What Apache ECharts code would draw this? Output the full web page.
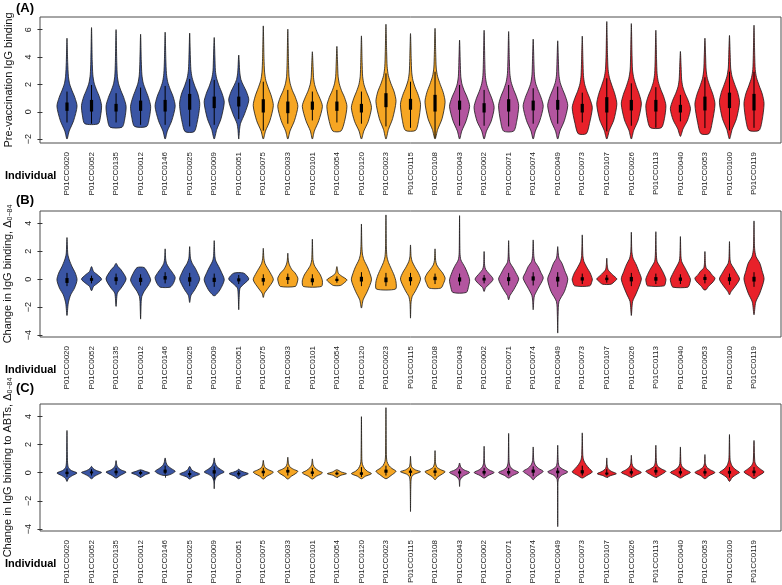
<!DOCTYPE html>
<html><head><meta charset="utf-8">
<script src="https://cdn.jsdelivr.net/npm/echarts@6/dist/echarts.min.js"></script>
<style>html,body{margin:0;padding:0;background:#fff}#c{width:782px;height:585px}</style>
</head><body><div id="c"></div>
<script>
const individuals = ['P01CC0020','P01CC0052','P01CC0135','P01CC0012','P01CC0146','P01CC0025','P01CC0009','P01CC0051','P01CC0075','P01CC0033','P01CC0101','P01CC0054','P01CC0120','P01CC0023','P01CC0115','P01CC0108','P01CC0043','P01CC0002','P01CC0071','P01CC0074','P01CC0049','P01CC0073','P01CC0107','P01CC0026','P01CC0113','P01CC0040','P01CC0053','P01CC0100','P01CC0119'];
const groups = [0,0,0,0,0,0,0,0,1,1,1,1,1,1,1,1,2,2,2,2,2,3,3,3,3,3,3,3,3];
const groupColors = ['#3A55A4','#F6A623','#B3559F','#E8212A'];
const yTicks = [-4,-2,0,2,4];
const yTicksA = [-2,0,2,4,6];

// Panel A: violin outlines as [value, relative half-width] knots, and box stats
const A_shape = [
[[-1.99,0],[-1.4,0.22],[-0.65,0.66],[0.4,1],[1.05,0.78],[1.55,0.5],[2.05,0.26],[2.6,0.14],[3.6,0.07],[5.38,0]],
[[-0.87,0.67],[-0.3,0.9],[0.45,1],[1.1,0.78],[1.6,0.5],[2.1,0.26],[2.7,0.13],[3.7,0.07],[6.16,0]],
[[-1.12,0.6],[-0.45,0.88],[0.4,1],[1.05,0.76],[1.55,0.48],[2.05,0.25],[2.6,0.13],[3.6,0.07],[6.01,0]],
[[-1.07,0.6],[-0.4,0.88],[0.4,1],[1.05,0.78],[1.6,0.5],[2.1,0.26],[2.7,0.13],[3.7,0.07],[5.67,0]],
[[-1.99,0],[-1.4,0.22],[-0.65,0.66],[0.4,1],[1.1,0.8],[1.65,0.5],[2.2,0.25],[2.8,0.13],[3.8,0.07],[5.82,0]],
[[-1.45,0.45],[-0.75,0.75],[0.1,0.95],[0.65,1],[1.3,0.82],[1.9,0.5],[2.5,0.24],[3.1,0.12],[4.0,0.07],[5.75,0]],
[[-1.99,0],[-1.3,0.25],[-0.5,0.68],[0.7,1],[1.35,0.78],[1.9,0.48],[2.45,0.24],[3.0,0.12],[4.0,0.07],[5.43,0]],
[[-1.99,0],[-1.3,0.08],[-0.85,0.18],[-0.15,0.58],[0.85,1],[1.5,0.75],[1.95,0.45],[2.35,0.22],[2.9,0.1],[4.15,0]],
[[-1.99,0],[-1.4,0.22],[-0.65,0.66],[0.45,1],[1.15,0.8],[1.75,0.5],[2.3,0.25],[2.9,0.13],[3.9,0.07],[6.28,0]],
[[-1.99,0],[-1.4,0.22],[-0.65,0.66],[0.4,1],[1.05,0.76],[1.55,0.46],[2.05,0.24],[2.6,0.12],[3.6,0.07],[6.04,0]],
[[-1.99,0],[-1.4,0.2],[-0.65,0.64],[0.4,1],[1.0,0.74],[1.5,0.44],[2.0,0.22],[2.5,0.12],[3.3,0.07],[4.39,0]],
[[-1.41,0.4],[-0.7,0.76],[0.4,1],[1.05,0.76],[1.55,0.46],[2.05,0.24],[2.6,0.12],[3.5,0.07],[4.78,0]],
[[-1.99,0],[-1.4,0.24],[-0.7,0.68],[0.3,1],[0.95,0.78],[1.5,0.48],[2.0,0.25],[2.6,0.12],[3.6,0.07],[5.55,0]],
[[-1.99,0],[-1.3,0.24],[-0.5,0.66],[0.75,1],[1.45,0.82],[2.05,0.5],[2.65,0.24],[3.3,0.12],[4.3,0.07],[6.4,0]],
[[-1.36,0.5],[-0.65,0.8],[0.55,1],[1.2,0.78],[1.75,0.48],[2.3,0.24],[2.9,0.12],[3.9,0.07],[5.72,0]],
[[-1.99,0],[-1.3,0.26],[-0.5,0.7],[0.7,1],[1.4,0.82],[2.0,0.52],[2.6,0.25],[3.2,0.12],[4.2,0.07],[6.1,0]],
[[-1.99,0],[-1.4,0.22],[-0.65,0.66],[0.4,1],[1.05,0.76],[1.55,0.46],[2.05,0.23],[2.6,0.12],[3.6,0.07],[5.24,0]],
[[-1.99,0],[-1.4,0.24],[-0.7,0.7],[0.3,1],[0.95,0.78],[1.5,0.48],[2.05,0.24],[2.65,0.12],[3.7,0.07],[5.96,0]],
[[-1.41,0.5],[-0.7,0.8],[0.45,1],[1.1,0.78],[1.65,0.48],[2.2,0.24],[2.8,0.12],[3.8,0.07],[5.87,0]],
[[-1.99,0],[-1.4,0.22],[-0.65,0.66],[0.4,1],[1.05,0.78],[1.6,0.48],[2.1,0.24],[2.7,0.12],[3.7,0.07],[5.31,0]],
[[-1.99,0],[-1.4,0.22],[-0.65,0.66],[0.45,1],[1.1,0.78],[1.65,0.48],[2.15,0.24],[2.7,0.12],[3.7,0.07],[5.19,0]],
[[-1.6,0.4],[-0.85,0.72],[0.3,1],[0.95,0.76],[1.5,0.46],[2.05,0.23],[2.65,0.12],[3.7,0.07],[5.53,0]],
[[-1.99,0],[-1.35,0.26],[-0.6,0.7],[0.55,1],[1.25,0.82],[1.9,0.52],[2.5,0.26],[3.1,0.13],[4.2,0.07],[6.6,0]],
[[-1.99,0],[-1.35,0.24],[-0.6,0.68],[0.58,1],[1.25,0.8],[1.85,0.5],[2.45,0.25],[3.05,0.12],[4.1,0.07],[6.45,0]],
[[-1.16,0.55],[-0.5,0.85],[0.45,1],[1.1,0.78],[1.65,0.48],[2.2,0.24],[2.8,0.12],[3.8,0.07],[5.96,0]],
[[-1.8,0],[-1.25,0.26],[-0.6,0.72],[0.22,1],[0.85,0.76],[1.35,0.46],[1.85,0.23],[2.4,0.12],[3.3,0.07],[4.41,0]],
[[-1.6,0.4],[-0.8,0.72],[0.55,1],[1.25,0.8],[1.85,0.5],[2.45,0.24],[3.05,0.12],[4.0,0.07],[5.38,0]],
[[-1.99,0],[-1.3,0.26],[-0.5,0.7],[0.7,1],[1.4,0.82],[2.0,0.52],[2.6,0.25],[3.2,0.12],[4.2,0.07],[5.58,0]],
[[-1.36,0.5],[-0.65,0.8],[0.6,1],[1.3,0.82],[1.9,0.52],[2.5,0.25],[3.1,0.12],[4.1,0.07],[6.33,0]]
];
const A_q1 = [0.07,0.02,0.02,0.07,0.02,0.15,0.27,0.39,-0.05,-0.1,0.15,0.07,-0.05,0.34,0.15,0.02,0.15,-0.05,0.02,0.1,0.15,-0.05,-0.05,0.1,0.02,-0.05,0.1,0.27,0.1];
const A_q3 = [0.68,0.87,0.58,0.82,0.87,1.31,1.11,1.11,0.92,0.75,0.75,0.75,0.58,1.36,0.95,1.24,0.82,0.63,0.92,0.82,0.87,0.58,1.07,0.87,0.87,0.51,1.11,1.4,1.31];
const A_wlo = [-0.78,-0.87,-0.78,-0.95,-0.95,-1.07,-0.95,-0.53,-1.38,-0.87,-0.63,-0.78,-0.87,-1.07,-1.17,-1.9,-1.02,-1.02,-1.07,-0.87,-0.87,-0.78,-1.43,-1.02,-1.16,-0.7,-1.19,-1.36,-1.17];
const A_whi = [1.48,1.96,1.36,1.77,1.89,2.4,2.33,2.13,2.2,1.6,1.48,1.6,1.48,2.81,2.2,2.93,1.96,1.6,1.96,1.72,1.84,1.4,2.45,2.08,1.8,1.24,2.52,2.93,2.93];

// Panel B
const B_shape = [
[[-2.6,0],[-1.7,0.13],[-1.12,0.37],[-0.64,0.75],[-0.05,1],[0.43,0.83],[0.9,0.5],[1.38,0.23],[1.8,0.08],[2.98,0]],
[[-0.83,0],[-0.52,0.2],[-0.29,0.6],[0,1],[0.31,0.6],[0.55,0.2],[0.9,0]],
[[-1.95,0],[-1.0,0.13],[-0.64,0.5],[0.02,1],[0.67,0.5],[0.9,0.2],[1.14,0]],
[[-2.86,0],[-1.6,0.06],[-1.24,0.12],[-0.88,0.35],[-0.4,0.8],[-0.05,1],[0.4,0.75],[0.83,0.35]],
[[-0.57,0.5],[-0.3,0.82],[0.12,1],[0.5,0.7],[0.79,0.4],[1.14,0.13],[1.5,0.05],[2.17,0]],
[[-1.67,0],[-1.17,0.13],[-0.76,0.5],[0,1],[0.5,0.75],[0.79,0.55],[1.14,0.25],[1.5,0.08],[2.33,0]],
[[-1.17,0.1],[-0.76,0.58],[-0.05,1],[0.5,0.72],[0.9,0.45],[1.3,0.16],[1.7,0.06],[2.76,0]],
[[-2.19,0],[-1.2,0.05],[-0.64,0.13],[-0.36,0.5],[0.02,1],[0.43,0.5]],
[[-1.31,0],[-1.0,0.12],[-0.71,0.42],[-0.05,1],[0.45,0.7],[0.79,0.42],[1.14,0.16],[1.5,0.06],[2.21,0]],
[[-0.52,0.75],[-0.2,0.95],[0.07,1],[0.45,0.72],[0.67,0.42],[1.02,0.16],[1.3,0.06],[1.86,0]],
[[-0.52,0.9],[-0.12,1],[0.3,0.8],[0.55,0.58],[0.8,0.35],[1.02,0.18],[1.4,0.06],[2.86,0]],
[[-0.45,0.35],[-0.25,0.75],[-0.05,1],[0.24,0.43],[0.43,0.14],[0.9,0]],
[[-2.07,0],[-1.48,0.17],[-0.88,0.58],[-0.05,1],[0.5,0.8],[0.9,0.58],[1.38,0.25],[1.8,0.1],[2.5,0.04],[3.95,0]],
[[-0.71,0.95],[-0.2,1],[0.3,0.8],[0.79,0.5],[1.2,0.25],[1.6,0.1],[2.3,0.04],[4.6,0]],
[[-2.79,0],[-1.7,0.05],[-1.24,0.17],[-0.83,0.5],[0,1],[0.5,0.75],[0.79,0.5],[1.26,0.17],[1.6,0.06],[2.45,0]],
[[-0.64,0.58],[-0.3,0.85],[0.07,1],[0.45,0.75],[0.67,0.5],[1.02,0.17],[1.35,0.06],[2.17,0]],
[[-0.95,0.67],[-0.5,0.9],[-0.05,1],[0.45,0.78],[0.9,0.5],[1.38,0.13],[1.9,0.04],[4.55,0]],
[[-0.88,0],[-0.6,0.15],[-0.4,0.45],[0,0.9],[0.43,0.45],[0.7,0.15],[1.0,0.05],[1.98,0]],
[[-1.48,0],[-1.17,0.13],[-0.76,0.5],[0,1],[0.45,0.72],[0.79,0.47],[1.19,0.13],[1.6,0.05],[2.76,0]],
[[-2.19,0],[-1.5,0.06],[-1.17,0.13],[-0.64,0.5],[0.07,1],[0.5,0.75],[0.9,0.5],[1.26,0.17],[1.7,0.06],[2.81,0]],
[[-3.86,0],[-2.5,0.04],[-1.6,0.13],[-0.88,0.67],[0,1],[0.6,0.7],[1.14,0.42],[1.5,0.13],[1.9,0.05],[2.33,0]],
[[-0.48,0.75],[-0.15,0.97],[0.02,1],[0.45,0.78],[0.79,0.5],[1.26,0.17],[1.7,0.06],[3.17,0]],
[[-0.36,0.42],[-0.15,0.8],[0.02,1],[0.3,0.6],[0.43,0.42],[0.67,0.13],[1.0,0.05],[1.5,0]],
[[-2.6,0],[-1.6,0.13],[-1.0,0.5],[0,1],[0.55,0.75],[1.02,0.5],[1.5,0.17],[2.0,0.05],[3.36,0]],
[[-0.48,0.83],[-0.2,0.97],[0,1],[0.45,0.75],[0.79,0.5],[1.26,0.13],[1.8,0.05],[3.4,0]],
[[-0.57,0.75],[-0.25,0.95],[0,1],[0.45,0.72],[0.79,0.47],[1.26,0.13],[1.7,0.05],[3.05,0]],
[[-0.76,0.1],[-0.52,0.35],[-0.2,0.8],[0.07,1],[0.35,0.65],[0.55,0.47],[0.79,0.13],[1.1,0.05],[1.98,0]],
[[-1.12,0],[-0.9,0.15],[-0.64,0.43],[0,1],[0.45,0.7],[0.79,0.42],[1.14,0.13],[1.5,0.05],[2.69,0]],
[[-2.55,0],[-1.64,0.17],[-1.0,0.58],[0,1],[0.6,0.8],[1.14,0.58],[1.62,0.2],[2.2,0.06],[4.17,0]]
];
const B_q1 = [-0.27,-0.12,-0.14,-0.2,-0.03,-0.18,-0.2,-0.16,-0.18,-0.06,-0.22,-0.13,-0.17,-0.22,-0.15,-0.07,-0.17,-0.1,-0.14,-0.1,-0.17,-0.1,-0.07,-0.16,-0.11,-0.12,-0.06,-0.14,-0.17];
const B_q3 = [0.08,0.08,0.14,0.1,0.22,0.14,0.1,0.06,0.08,0.16,0.06,0.03,0.17,0.12,0.15,0.17,0.13,0.1,0.14,0.2,0.17,0.14,0.11,0.16,0.15,0.12,0.16,0.14,0.17];
const B_wlo = [-0.5,-0.3,-0.4,-0.45,-0.3,-0.5,-0.55,-0.35,-0.45,-0.35,-0.45,-0.25,-0.5,-0.5,-0.45,-0.35,-0.45,-0.3,-0.45,-0.45,-0.55,-0.35,-0.25,-0.5,-0.35,-0.35,-0.3,-0.4,-0.55];
const B_whi = [0.45,0.25,0.4,0.35,0.5,0.45,0.4,0.3,0.35,0.4,0.35,0.2,0.5,0.45,0.45,0.4,0.4,0.3,0.45,0.5,0.5,0.4,0.3,0.45,0.4,0.35,0.35,0.4,0.5];

// Panel C
const C_shape = [
[[-0.62,0],[-0.4,0.15],[-0.2,0.55],[-0.02,1],[0.15,0.45],[0.35,0.15],[0.7,0.06],[1.5,0.03],[3.0,0]],
[[-0.43,0],[-0.25,0.3],[-0.1,0.7],[0.02,1],[0.15,0.5],[0.3,0.15],[0.45,0]],
[[-0.38,0],[-0.2,0.4],[-0.05,0.8],[0.05,1],[0.2,0.5],[0.4,0.15],[0.6,0.06],[0.86,0]],
[[-0.33,0],[-0.15,0.45],[-0.02,0.9],[0.1,0.45],[0.21,0]],
[[-0.19,0.2],[-0.1,0.6],[0.1,1],[0.3,0.6],[0.5,0.25],[0.7,0.1],[1.05,0]],
[[-0.45,0],[-0.3,0.3],[-0.1,1],[0.05,0.55],[0.2,0.2],[0.45,0]],
[[-1.14,0],[-0.6,0.04],[-0.3,0.2],[-0.1,0.6],[0.05,1],[0.25,0.6],[0.45,0.25],[0.7,0.08],[1.05,0]],
[[-0.43,0],[-0.25,0.35],[-0.07,0.95],[0.05,0.5],[0.15,0.15],[0.26,0]],
[[-0.45,0],[-0.25,0.35],[-0.08,0.8],[0.05,1],[0.2,0.55],[0.35,0.2],[0.55,0.07],[0.88,0]],
[[-0.45,0],[-0.25,0.35],[-0.05,0.8],[0.1,1],[0.25,0.55],[0.42,0.2],[0.65,0.07],[1.1,0]],
[[-0.45,0],[-0.25,0.4],[-0.1,0.85],[0,1],[0.15,0.6],[0.35,0.25],[0.55,0.08],[0.98,0]],
[[-0.33,0],[-0.18,0.4],[-0.07,0.95],[0.05,0.45],[0.21,0]],
[[-0.43,0],[-0.25,0.4],[-0.07,1],[0.1,0.6],[0.3,0.3],[0.6,0.1],[1.0,0.04],[3.98,0]],
[[-0.43,0],[-0.2,0.5],[0.1,1],[0.3,0.6],[0.5,0.3],[0.8,0.1],[1.3,0.04],[4.62,0]],
[[-2.76,0],[-1.0,0.03],[-0.3,0.1],[-0.1,0.4],[0.07,1],[0.2,0.5],[0.4,0.12],[0.7,0.04],[1.17,0]],
[[-0.5,0],[-0.3,0.25],[-0.1,0.7],[0.07,1],[0.22,0.55],[0.4,0.18],[0.7,0.05],[1.57,0]],
[[-0.98,0],[-0.5,0.06],[-0.25,0.35],[0.02,1],[0.2,0.45],[0.4,0.12],[0.69,0]],
[[-0.38,0],[-0.2,0.4],[0.02,1],[0.2,0.5],[0.4,0.18],[0.7,0.05],[1.88,0]],
[[-0.38,0],[-0.2,0.4],[0.02,1],[0.2,0.5],[0.4,0.18],[0.7,0.06],[1.2,0.03],[2.79,0]],
[[-0.5,0],[-0.3,0.25],[-0.1,0.65],[0.1,1],[0.3,0.55],[0.55,0.2],[0.85,0.06],[1.83,0]],
[[-3.83,0],[-1.5,0.02],[-0.5,0.05],[-0.2,0.35],[0.05,1],[0.25,0.5],[0.45,0.15],[0.8,0.05],[1.95,0]],
[[-0.38,0],[-0.2,0.45],[0.05,1],[0.3,0.7],[0.6,0.35],[0.9,0.13],[1.3,0.05],[2.83,0]],
[[-0.33,0],[-0.2,0.4],[-0.07,0.95],[0.1,0.45],[0.3,0.12],[0.55,0.04],[1.05,0]],
[[-0.33,0],[-0.18,0.45],[0.02,1],[0.2,0.55],[0.4,0.2],[0.65,0.06],[1.24,0]],
[[-0.33,0],[-0.15,0.5],[0.1,1],[0.25,0.6],[0.45,0.2],[0.75,0.06],[1.95,0]],
[[-0.38,0],[-0.2,0.45],[0.02,1],[0.2,0.55],[0.4,0.2],[0.65,0.06],[1.83,0]],
[[-0.43,0],[-0.22,0.4],[0.02,1],[0.2,0.55],[0.4,0.18],[0.65,0.05],[1.29,0]],
[[-0.62,0],[-0.35,0.25],[-0.1,0.75],[0.02,1],[0.25,0.55],[0.5,0.25],[0.85,0.08],[1.3,0.04],[2.71,0]],
[[-0.43,0],[-0.22,0.45],[0.05,1],[0.25,0.65],[0.5,0.25],[0.8,0.08],[2.29,0]]
];
const C_q1 = [-0.1,-0.05,-0.04,-0.08,0.0,-0.17,-0.06,-0.13,-0.04,0.01,-0.08,-0.12,-0.15,0.0,-0.01,-0.01,-0.06,-0.06,-0.06,0.0,-0.04,-0.05,-0.13,-0.06,0.01,-0.06,-0.06,-0.07,-0.04];
const C_q3 = [0.07,0.09,0.14,0.05,0.22,-0.02,0.18,0.0,0.14,0.2,0.09,0.0,0.03,0.22,0.15,0.16,0.1,0.12,0.12,0.22,0.15,0.18,0.01,0.11,0.2,0.11,0.11,0.13,0.15];
const C_wlo = [-0.3,-0.2,-0.2,-0.18,-0.12,-0.3,-0.5,-0.25,-0.25,-0.2,-0.25,-0.18,-0.3,-0.2,-0.25,-0.25,-0.35,-0.2,-0.2,-0.25,-0.35,-0.2,-0.2,-0.2,-0.15,-0.2,-0.22,-0.35,-0.25];
const C_whi = [0.3,0.25,0.35,0.15,0.5,0.15,0.45,0.12,0.35,0.4,0.35,0.1,0.4,0.5,0.3,0.35,0.25,0.35,0.35,0.45,0.35,0.5,0.25,0.3,0.4,0.35,0.3,0.4,0.4];

const HW = 0.41; // max half-width in category units
const positions = individuals.map((n, i) => i + 1);

function renderer(shapes, q1, q3, wlo, whi) {
  return function (params, api) {
    const i = params.dataIndex;
    const x = positions[i];
    const k = shapes[i];
    const left = k.map(p => api.coord([x - p[1] * HW, p[0]]));
    const right = k.slice().reverse().map(p => api.coord([x + p[1] * HW, p[0]]));
    let pts = left.slice();
    right.forEach((p) => {
      const last = pts[pts.length - 1];
      if (Math.abs(last[0] - p[0]) < 0.01 && Math.abs(last[1] - p[1]) < 0.01) return;
      pts.push(p);
    });
    if (Math.abs(pts[0][0] - pts[pts.length-1][0]) < 0.01 && Math.abs(pts[0][1] - pts[pts.length-1][1]) < 0.01) pts.pop();
    const c1 = api.coord([x, wlo[i]]), c2 = api.coord([x, whi[i]]);
    const b1 = api.coord([x, q1[i]]), b2 = api.coord([x, q3[i]]);
    return {
      type: 'group',
      children: [
        { type: 'polygon', shape: { points: pts, smooth: 0.25 },
          style: { fill: groupColors[groups[i]], stroke: '#1b1b1b', lineWidth: 0.8 } },
        { type: 'line', shape: { x1: c1[0], y1: c1[1], x2: c2[0], y2: c2[1] },
          style: { stroke: '#000', lineWidth: 1 } },
        { type: 'rect', shape: { x: b1[0] - 1.6, y: b2[1], width: 3.2, height: Math.max(1.5, b1[1] - b2[1]) },
          style: { fill: '#000' } }
      ]
    };
  };
}

const grids = [
  { left: 40, right: 1, top: 17, height: 126 },
  { left: 40, right: 1, top: 211, height: 126 },
  { left: 40, right: 1, top: 404, height: 127 }
].map(g => Object.assign(g, { show: true, borderColor: '#4d4d4d', borderWidth: 1, outerBoundsMode: 'none', containLabel: false }));

const xAxes = [0, 1, 2].map(gi => ({
  type: 'value', gridIndex: gi, min: -0.1, max: 30.1,
  axisLine: { show: false }, splitLine: { show: false },
  axisTick: { show: true, length: 5, customValues: positions, lineStyle: { color: '#333' } },
  axisLabel: { show: true, customValues: positions, rotate: 90, margin: 9, fontSize: 8,
    fontFamily: 'Liberation Sans, Arial, sans-serif', color: '#222',
    formatter: v => individuals[Math.round(v) - 1] || '' }
}));

const fmtMinus = v => String(v).replace('-', '\u2212');
const nameStyle = {
  fontSize: 11, fontFamily: 'Liberation Sans, Arial, sans-serif', color: '#111',
  rich: { sub: { fontSize: 7, fontFamily: 'Liberation Sans, Arial, sans-serif', color: '#111', verticalAlign: 'bottom', padding: [5, 0, 0, 0] } }
};
function yAxis(gi, min, max, ticks, name) {
  return {
    type: 'value', gridIndex: gi, min: min, max: max,
    name: name, nameLocation: 'middle', nameGap: 26, nameRotate: 90, nameTextStyle: nameStyle,
    axisLine: { show: false }, splitLine: { show: false },
    axisTick: { show: true, length: 5, customValues: ticks, lineStyle: { color: '#333' } },
    axisLabel: { show: true, customValues: ticks, rotate: 90, margin: 7, fontSize: 9,
      fontFamily: 'Liberation Sans, Arial, sans-serif', color: '#222', formatter: fmtMinus }
  };
}

const yAxes = [
  yAxis(0, -2.28, 6.93, yTicksA, 'Pre-vaccination IgG binding'),
  yAxis(1, -4.14, 4.88, yTicks, 'Change in IgG binding, \u0394{sub|0\u221284}'),
  yAxis(2, -4.14, 4.88, yTicks, 'Change in IgG binding to ABTs, \u0394{sub|0\u221284}')
];

function series(gi, shapes, q1, q3, wlo, whi) {
  return {
    type: 'custom', xAxisIndex: gi, yAxisIndex: gi,
    renderItem: renderer(shapes, q1, q3, wlo, whi),
    data: positions.map((p, i) => [p, (q1[i] + q3[i]) / 2]),
    encode: { x: 0, y: 1 }, silent: true, animation: false
  };
}

const txt = (text, left, top, size) => ({
  text: text, left: left, top: top, padding: 0,
  textStyle: { fontSize: size, fontWeight: 'bold', color: '#000', fontFamily: 'Liberation Sans, Arial, sans-serif' }
});

const chart = echarts.init(document.getElementById('c'), null, { renderer: 'canvas' });
chart.setOption({
  animation: false,
  backgroundColor: '#fff',
  title: [
    txt('(A)', 16, 2, 13), txt('(B)', 16, 194, 13), txt('(C)', 16, 382, 13),
    txt('Individual', 5, 170, 11), txt('Individual', 5, 364, 11), txt('Individual', 5, 558, 11)
  ],
  grid: grids,
  xAxis: xAxes,
  yAxis: yAxes,
  series: [
    series(0, A_shape, A_q1, A_q3, A_wlo, A_whi),
    series(1, B_shape, B_q1, B_q3, B_wlo, B_whi),
    series(2, C_shape, C_q1, C_q3, C_wlo, C_whi)
  ]
});
</script></body></html>
